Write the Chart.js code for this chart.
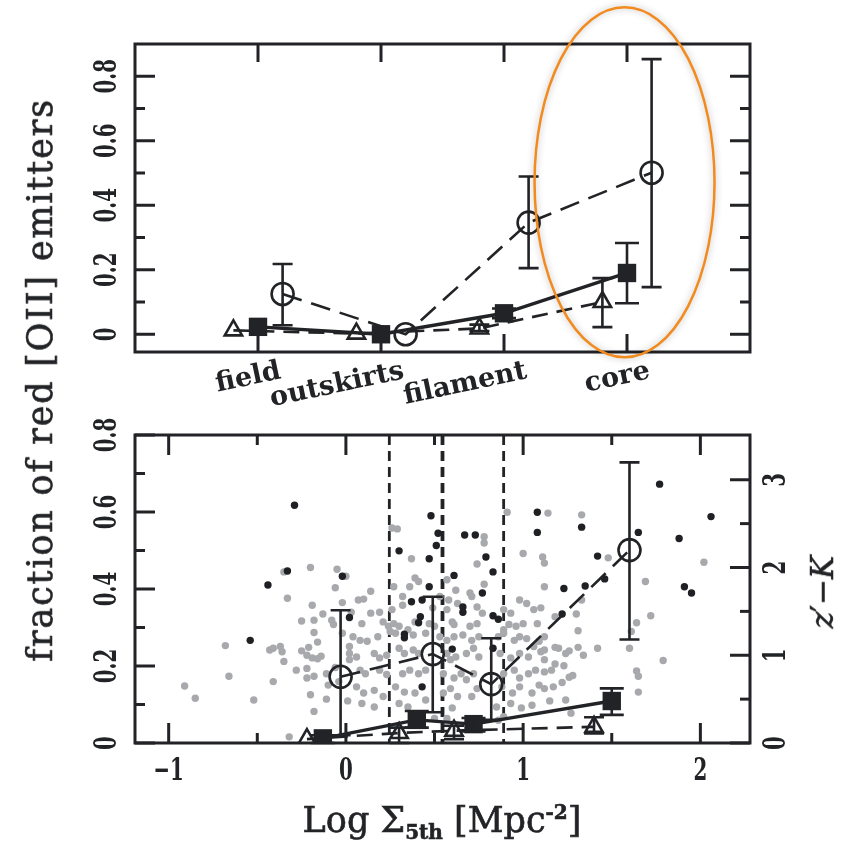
<!DOCTYPE html>
<html>
<head>
<meta charset="utf-8">
<script src="https://cdn.jsdelivr.net/npm/chart.js@4.4.1/dist/chart.umd.min.js"></script>
<style>
  body { margin: 0; background: #fff; }
  #wrap { position: relative; width: 844px; height: 847px; overflow: hidden; }
  canvas { position: absolute; left: 0; }
  #topChart { top: 0; }
  #botChart { top: 395px; }
  .lbl { position: absolute; white-space: nowrap; color: #222326; font-family: 'DejaVu Serif', serif;
         -webkit-text-stroke: 0.6px #222326; }
  #ylab { left: 40px; top: 380px; font-size: 35px; letter-spacing: 1.8px; transform: translate(-50%, -50%) rotate(-90deg); }
  #xlab { left: 442px; top: 822px; font-size: 35px; transform: translate(-50%, -50%); }
  #xlab sub { font-size: 20px; font-weight: bold; vertical-align: -7px; }
  #xlab sup { font-size: 20px; font-weight: bold; vertical-align: 13px; }
  #zklab { left: 822px; top: 592px; font-size: 31px; transform: translate(-50%, -50%) rotate(-90deg); }
</style>
</head>
<body>
<div id="wrap">
  <canvas id="topChart" width="844" height="420"></canvas>
  <canvas id="botChart" width="844" height="452"></canvas>
  <div class="lbl" id="ylab">fraction of red [OII] emitters</div>
  <div class="lbl" id="xlab">Log &Sigma;<sub>5th</sub> [Mpc<sup>-2</sup>]</div>
  <div class="lbl" id="zklab"><i>z</i>&prime;&minus;<i>K</i></div>
</div>
<script>
// environments (top panel)
const envNames = ['field', 'outskirts', 'filament', 'core'];
const envPos = [1, 2, 3, 4];

// top panel: open circles
const envCircle = [0.125, 0.0, 0.346, 0.501];
const envCircleLo = [0.028, null, 0.205, 0.146];
const envCircleHi = [0.218, null, 0.489, 0.853];
// top panel: filled squares
const envSquare = [0.023, 0.0, 0.065, 0.19];
const envSquareLo = [null, null, 0.05, 0.096];
const envSquareHi = [null, null, 0.08, 0.283];
// top panel: open triangles
const envTri = [0.012, 0.002, 0.018, 0.10];
const envTriLo = [null, null, 0.01, 0.022];
const envTriHi = [null, null, 0.03, 0.174];

// bottom panel: binned fractions vs Log Sigma_5th
const sigCircleX = [-0.03, 0.49, 0.82, 1.60];
const sigCircle = [0.172, 0.231, 0.153, 0.501];
const sigCircleLo = [0.02, 0.08, 0.06, 0.269];
const sigCircleHi = [0.345, 0.38, 0.272, 0.729];
const sigSquareX = [-0.13, 0.40, 0.72, 1.50];
const sigSquare = [0.012, 0.06, 0.049, 0.109];
const sigSquareLo = [0.0, 0.04, 0.03, 0.073];
const sigSquareHi = [0.02, 0.083, 0.065, 0.142];
const sigTriX = [-0.22, 0.30, 0.61, 1.40];
const sigTri = [0.01, 0.026, 0.032, 0.042];
const sigTriLo = [null, 0.0, 0.01, 0.025];
const sigTriHi = [null, 0.04, 0.045, 0.067];

// environment boundaries in Log Sigma_5th
const envCuts = [0.245, 0.545, 0.89];

// individual galaxies: Log Sigma_5th and z'-K
const grayX = [-0.20,-0.05,-0.35,-0.06,-0.33,-0.19,-0.02,-0.13,-0.25,-0.18,-0.08,-0.07,-0.18,-0.02,-0.16,-0.68,-0.43,-0.41,-0.37,-0.36,
  -0.25,-0.21,-0.22,-0.19,-0.16,-0.14,-0.35,-0.28,-0.22,-0.66,-0.22,-0.18,-0.11,-0.10,-0.41,-0.91,-0.85,-0.52,-0.20,-0.11,
  -0.18,0.01,-0.32,0.02,0.02,-0.04,-0.06,
  0.91,0.26,0.29,0.78,0.78,0.37,1.00,1.11,0.74,0.00,0.39,0.41,0.57,0.78,0.27,0.36,0.62,0.70,0.14,1.12,
  0.07,0.10,0.32,0.53,0.58,0.63,0.71,0.98,1.02,1.06,1.10,0.03,0.14,0.19,0.26,0.32,0.49,0.57,0.74,0.77,
  0.89,0.93,0.09,0.21,0.24,0.27,0.30,0.39,0.47,0.50,0.60,0.61,0.70,0.74,0.89,0.92,0.96,1.00,1.08,0.04,
  0.08,0.12,0.18,0.25,0.28,0.35,0.38,0.45,0.53,0.57,0.61,0.66,0.71,0.75,0.86,0.89,0.95,0.98,1.02,1.09,
  0.02,0.06,0.16,0.19,0.23,0.30,0.33,0.38,0.41,0.57,0.59,0.62,0.68,0.72,0.75,0.87,0.93,0.98,1.03,1.06,
  1.10,0.08,0.11,0.19,0.23,0.32,0.36,0.41,0.45,0.55,0.61,0.65,0.68,0.72,0.89,0.95,0.98,1.03,1.07,0.06,
  0.10,0.16,0.21,0.28,0.33,0.39,0.55,0.59,0.63,0.71,0.74,0.88,0.94,0.98,1.05,1.09,0.09,0.16,0.30,0.35,
  0.45,0.60,0.85,0.93,0.99,1.05,0.50,0.57,0.86,0.89,
  1.14,1.33,1.12,1.48,2.02,1.33,1.69,1.30,1.18,1.72,1.64,1.61,1.31,1.12,1.18,1.20,1.24,1.26,1.12,1.31,
  1.34,1.42,1.60,1.79,1.12,1.18,1.23,1.12,1.16,1.64,1.65,1.26,1.28,1.22,1.17,1.12,1.65,1.15,1.24,1.27];
const grayZK = [2.00,1.98,1.95,1.77,1.65,1.57,1.60,1.47,1.39,1.40,1.40,1.35,1.26,1.25,1.15,1.11,1.06,1.08,1.10,1.04,
  1.05,1.09,1.00,0.97,0.96,0.99,0.93,0.83,0.85,0.76,0.74,0.76,0.79,0.66,0.70,0.65,0.51,0.49,0.55,0.50,
  0.36,0.48,0.07,1.10,0.95,0.70,0.86,
  2.63,2.45,2.44,2.35,2.28,2.10,2.16,2.12,2.04,1.90,1.88,1.84,1.86,1.81,1.78,1.78,1.74,1.71,1.73,1.78,
  1.63,1.64,1.67,1.67,1.63,1.59,1.67,1.63,1.59,1.52,1.54,1.49,1.48,1.49,1.52,1.57,1.54,1.52,1.55,1.48,
  1.52,1.48,1.36,1.38,1.33,1.36,1.33,1.38,1.36,1.33,1.38,1.35,1.33,1.36,1.29,1.35,1.33,1.36,1.36,1.21,
  1.17,1.16,1.21,1.27,1.25,1.29,1.23,1.25,1.21,1.17,1.21,1.23,1.17,1.21,1.21,1.25,1.17,1.21,1.19,1.16,
  1.02,0.98,1.02,0.97,1.00,1.08,1.02,1.06,1.02,1.02,0.95,0.98,1.02,1.08,0.98,1.02,0.97,1.02,0.98,1.10,
  1.04,0.83,0.79,0.83,0.78,0.79,0.83,0.79,0.83,0.79,0.74,0.79,0.72,0.79,0.79,0.83,0.74,0.79,0.83,0.64,
  0.57,0.60,0.53,0.64,0.58,0.57,0.57,0.62,0.53,0.53,0.62,0.64,0.57,0.64,0.57,0.66,0.45,0.41,0.45,0.41,
  0.49,0.40,0.41,0.45,0.40,0.43,0.28,0.28,0.26,0.30,
  2.62,2.60,2.05,2.11,2.06,1.63,1.84,1.47,1.44,1.45,1.37,1.27,1.28,1.21,1.09,1.08,1.02,1.05,1.06,1.09,
  1.00,1.08,1.08,0.94,0.95,0.90,0.88,0.81,0.83,0.82,0.76,0.75,0.77,0.69,0.64,0.62,0.58,0.48,0.49,0.34];
const blackX = [-0.29,-0.33,-0.44,-0.02,-0.54,0.02,0.48,0.52,0.51,0.30,0.47,0.47,0.67,0.73,0.79,0.83,0.61,0.77,1.08,1.08,
  0.37,0.43,0.66,0.66,0.42,0.41,0.33,0.33,0.83,0.86,0.60,0.83,0.43,1.77,2.06,1.33,1.65,1.88,1.42,1.46,
  1.35,1.23,1.91,1.95,1.22];
const blackZK = [2.71,1.96,1.80,1.90,1.17,1.43,2.59,2.39,2.25,2.19,2.10,1.78,2.37,2.37,2.12,1.95,1.91,1.71,2.63,2.40,
  1.61,1.63,1.55,1.49,1.44,1.37,1.24,1.20,1.45,1.41,1.07,1.08,0.64,2.95,2.58,2.46,2.40,2.33,2.13,1.87,
  1.79,1.76,1.78,1.71,1.47];

// tick values
const fracTicks = [0, 0.2, 0.4, 0.6, 0.8];
const fracMinor = [0.1, 0.3, 0.5, 0.7];
const sigmaTicks = [-1, 0, 1, 2];
const sigmaMinor = [-0.5, 0.5, 1.5];
const zkTicks = [0, 1, 2, 3];
const zkMinor = [0.5, 1.5, 2.5];

const ink = '#222326';
const numFont = 'bold 31px "DejaVu Serif"';

function pts(xs, ys) {
  return xs.map((x, i) => ({ x: x, y: ys[i] }));
}

function text(ctx, str, x, y, rot, font, squeeze, align) {
  ctx.save();
  ctx.translate(x, y);
  ctx.rotate(rot);
  ctx.scale(squeeze, 1);
  ctx.font = font;
  ctx.fillStyle = ink;
  ctx.textAlign = align || 'center';
  ctx.textBaseline = align ? 'alphabetic' : 'middle';
  ctx.fillText(str, 0, 0);
  ctx.restore();
}

// inward tick marks on one side of the box
function ticks(ctx, a, scale, values, side, len) {
  values.forEach(v => {
    const p = scale.getPixelForValue(v);
    ctx.beginPath();
    if (side === 'left') { ctx.moveTo(a.left, p); ctx.lineTo(a.left + len, p); }
    if (side === 'right') { ctx.moveTo(a.right, p); ctx.lineTo(a.right - len, p); }
    if (side === 'top') { ctx.moveTo(p, a.top); ctx.lineTo(p, a.top + len); }
    if (side === 'bottom') { ctx.moveTo(p, a.bottom); ctx.lineTo(p, a.bottom - len); }
    ctx.stroke();
  });
}

// error bars drawn right after their own dataset
const errorBars = {
  id: 'errorBars',
  afterDatasetDraw(chart, args) {
    const ds = chart.data.datasets[args.index];
    if (!ds.errLo) return;
    const xs = chart.scales[args.meta.xAxisID];
    const ys = chart.scales[args.meta.yAxisID];
    const ctx = chart.ctx;
    ctx.save();
    ctx.strokeStyle = ink;
    ctx.lineWidth = 2.6;
    ds.data.forEach((p, i) => {
      if (ds.errLo[i] == null) return;
      const x = xs.getPixelForValue(p.x);
      const y1 = ys.getPixelForValue(ds.errLo[i]);
      const y2 = ys.getPixelForValue(ds.errHi[i]);
      const c = ds.cap;
      ctx.beginPath();
      ctx.moveTo(x, y1); ctx.lineTo(x, y2);
      ctx.moveTo(x - c, y1); ctx.lineTo(x + c, y1);
      ctx.moveTo(x - c, y2); ctx.lineTo(x + c, y2);
      ctx.stroke();
    });
    ctx.restore();
  }
};

const baseOpts = {
  responsive: false,
  animation: false,
  plugins: { legend: { display: false }, tooltip: { enabled: false } },
  elements: { line: { tension: 0 } }
};

function seriesSets(xs, circ, cLo, cHi, sqX, sq, sLo, sHi, trX, tri, tLo, tHi, yID) {
  return [
    { data: pts(xs, circ), errLo: cLo, errHi: cHi, cap: 10, yAxisID: yID, order: 3,
      showLine: true, borderColor: ink, borderWidth: 2.6, borderDash: [20, 10],
      pointStyle: 'circle', pointRadius: 11, pointBorderWidth: 2.6,
      pointBorderColor: ink, pointBackgroundColor: 'rgba(0,0,0,0)' },
    { data: pts(trX, tri), errLo: tLo, errHi: tHi, cap: 10, yAxisID: yID, order: 2,
      showLine: true, borderColor: ink, borderWidth: 2.6, borderDash: [16, 9],
      pointStyle: 'triangle', pointRadius: 10, pointBorderWidth: 2.6,
      pointBorderColor: ink, pointBackgroundColor: 'rgba(0,0,0,0)' },
    { data: pts(sqX, sq), errLo: sLo, errHi: sHi, cap: 12, yAxisID: yID, order: 1,
      showLine: true, borderColor: ink, borderWidth: 3.4,
      pointStyle: 'rect', pointRadius: 13, pointBorderWidth: 0,
      pointBackgroundColor: ink }
  ];
}

// top panel: fraction by environment
const topDecor = {
  id: 'topDecor',
  afterDraw(chart) {
    const ctx = chart.ctx, a = chart.chartArea;
    const x = chart.scales.x, y = chart.scales.y;
    ctx.save();
    ctx.strokeStyle = ink;
    ctx.lineWidth = 3;
    ctx.strokeRect(a.left, a.top, a.right - a.left, a.bottom - a.top);
    ticks(ctx, a, y, fracTicks, 'left', 20);
    ticks(ctx, a, y, fracMinor, 'left', 10);
    ticks(ctx, a, y, fracTicks, 'right', 20);
    ticks(ctx, a, y, fracMinor, 'right', 10);
    ticks(ctx, a, x, envPos, 'top', 18);
    ticks(ctx, a, x, envPos, 'bottom', 18);
    fracTicks.forEach(v => text(ctx, String(v), 108, y.getPixelForValue(v), -Math.PI / 2, numFont, 0.64));
    envPos.forEach((v, i) => text(ctx, envNames[i], x.getPixelForValue(v) + 24, a.bottom + 26,
      -12 * Math.PI / 180, 'bold 27px "DejaVu Serif"', 1, 'right'));
    // highlight around the core bin
    ctx.save();
    ctx.strokeStyle = '#f28a1e';
    ctx.lineWidth = 2.5;
    ctx.shadowColor = 'rgba(0,0,0,0.3)';
    ctx.shadowBlur = 7;
    ctx.beginPath();
    ctx.ellipse(x.getPixelForValue(3.98), y.getPixelForValue(0.471), 90, 175, 0, 0, Math.PI * 2);
    ctx.stroke();
    ctx.restore();
    ctx.restore();
  }
};

new Chart(document.getElementById('topChart'), {
  type: 'scatter',
  data: {
    datasets: seriesSets(
      envPos.map(v => v + 0.2), envCircle, envCircleLo, envCircleHi,
      envPos, envSquare, envSquareLo, envSquareHi,
      envPos.map(v => v - 0.2), envTri, envTriLo, envTriHi, 'y')
  },
  options: Object.assign({}, baseOpts, {
    layout: { padding: { left: 135, right: 94, top: 44, bottom: 68 } },
    scales: {
      x: { type: 'linear', min: 0, max: 5, display: false },
      y: { type: 'linear', min: -0.055, max: 0.9, display: false }
    }
  }),
  plugins: [errorBars, topDecor]
});

// bottom panel: fraction and colour vs local density
const botDecor = {
  id: 'botDecor',
  beforeDatasetsDraw(chart) {
    const ctx = chart.ctx, a = chart.chartArea, x = chart.scales.x;
    ctx.save();
    ctx.strokeStyle = ink;
    envCuts.forEach((v, i) => {
      ctx.lineWidth = i === 1 ? 3.8 : 2.8;
      ctx.setLineDash([10, 6]);
      const p = x.getPixelForValue(v);
      ctx.beginPath();
      ctx.moveTo(p, a.top);
      ctx.lineTo(p, a.bottom);
      ctx.stroke();
    });
    ctx.restore();
  },
  afterDraw(chart) {
    const ctx = chart.ctx, a = chart.chartArea;
    const x = chart.scales.x, y = chart.scales.y, zk = chart.scales.zk;
    ctx.save();
    ctx.strokeStyle = ink;
    ctx.lineWidth = 3;
    ctx.strokeRect(a.left, a.top, a.right - a.left, a.bottom - a.top);
    ticks(ctx, a, y, fracTicks, 'left', 20);
    ticks(ctx, a, y, fracMinor, 'left', 10);
    ticks(ctx, a, zk, zkTicks, 'right', 20);
    ticks(ctx, a, zk, zkMinor, 'right', 10);
    ticks(ctx, a, x, sigmaTicks, 'top', 20);
    ticks(ctx, a, x, sigmaMinor, 'top', 10);
    ticks(ctx, a, x, sigmaTicks, 'bottom', 20);
    ticks(ctx, a, x, sigmaMinor, 'bottom', 10);
    fracTicks.forEach(v => text(ctx, String(v), 108, y.getPixelForValue(v), -Math.PI / 2, numFont, 0.64));
    zkTicks.forEach(v => text(ctx, String(v), 777, zk.getPixelForValue(v), -Math.PI / 2, numFont, 0.64));
    sigmaTicks.forEach(v => text(ctx, String(v).replace('-', '\u2212'), x.getPixelForValue(v),
      a.bottom + 29, 0, numFont, 0.64));
    ctx.restore();
  }
};

new Chart(document.getElementById('botChart'), {
  type: 'scatter',
  data: {
    datasets: [
      { data: pts(grayX, grayZK), yAxisID: 'zk', order: 10,
        pointRadius: 3.7, pointBorderWidth: 0, pointBackgroundColor: '#a7a9ac' },
      { data: pts(blackX, blackZK), yAxisID: 'zk', order: 9,
        pointRadius: 3.7, pointBorderWidth: 0, pointBackgroundColor: '#1f2023' }
    ].concat(seriesSets(
      sigCircleX, sigCircle, sigCircleLo, sigCircleHi,
      sigSquareX, sigSquare, sigSquareLo, sigSquareHi,
      sigTriX, sigTri, sigTriLo, sigTriHi, 'y'))
  },
  options: Object.assign({}, baseOpts, {
    layout: { padding: { left: 135, right: 94, top: 40, bottom: 104 } },
    scales: {
      x: { type: 'linear', min: -1.19, max: 2.28, display: false },
      y: { type: 'linear', min: 0, max: 0.8, display: false },
      zk: { type: 'linear', position: 'right', min: 0, max: 3.51, display: false }
    }
  }),
  plugins: [errorBars, botDecor]
});
</script>
</body>
</html>
